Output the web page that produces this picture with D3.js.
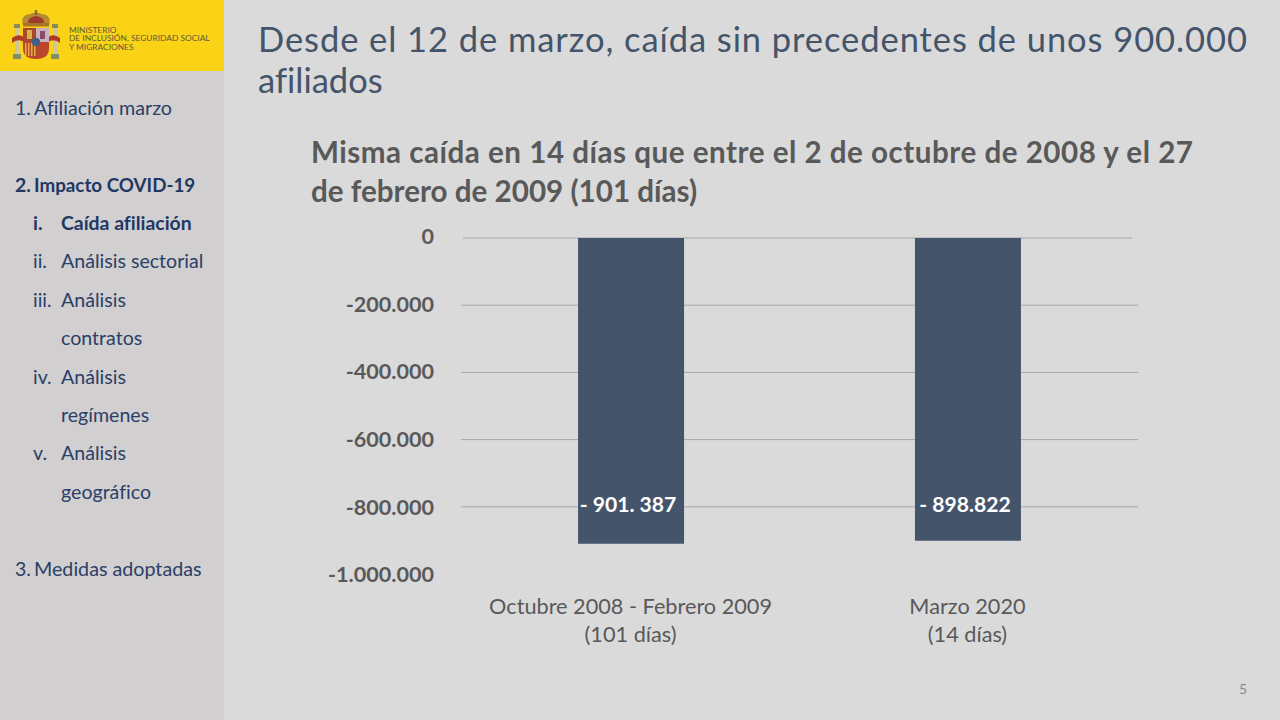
<!DOCTYPE html>
<html lang="es"><head><meta charset="utf-8">
<script src="https://cdn.jsdelivr.net/npm/d3@7/dist/d3.min.js"></script>
<style>html,body{margin:0;padding:0;background:#dadada;overflow:hidden}svg{display:block}text{font-family:Lato,"Open Sans",sans-serif;font-variant-ligatures:none}</style>
</head><body><svg id="c" width="1280" height="720"></svg>
<script>
const categories = [["Octubre 2008 - Febrero 2009","(101 días)"],["Marzo 2020","(14 días)"]];
const barValues = [-910000,-901000];
const barLabels = ["- 901. 387","- 898.822"];
const tickValues = [0,-200000,-400000,-600000,-800000,-1000000];
const titleLines = ["Desde el 12 de marzo, caída sin precedentes de unos 900.000","afiliados"];
const subtitleLines = ["Misma caída en 14 días que entre el 2 de octubre de 2008 y el 27","de febrero de 2009 (101 días)"];
const menuNumbers = [["1.",108,0],["2.",185,1],["3.",569,0]];
const menuMain = [["Afiliación marzo",108,0],["Impacto COVID-19",185,1],["Medidas adoptadas",569,0]];
const subNumbers = [["i.",223,1],["ii.",261,0],["iii.",300,0],["iv.",377,0],["v.",453,0]];
const subItems = [["Caída afiliación",223,1],["Análisis sectorial",261,0],["Análisis",300,0],["contratos",338,0],["Análisis",377,0],["regímenes",415,0],["Análisis",453,0],["geográfico",492,0]];
const logoText = ["MINISTERIO","DE INCLUSIÓN, SEGURIDAD SOCIAL","Y MIGRACIONES"];

const svg = d3.select("#c");
svg.append("rect").attr("width",1280).attr("height",720).attr("fill","#dadada");
svg.append("rect").attr("width",224).attr("height",720).attr("fill","#d1cfcf");
svg.append("rect").attr("width",224).attr("height",71).attr("fill","#fbd316");

// crest (decorative emblem)
const crest = svg.append("g");
const part=(x,y,w,h,f)=>crest.append("rect").attr("x",x).attr("y",y).attr("width",w).attr("height",h).attr("fill",f);
[14,52].forEach(x=>{
  part(x,24,6,4,"#8a8a55"); part(x+1,28,4,27,"#cfc79a"); part(x-1,54,8,5,"#7f8f6a");
});
crest.append("path").attr("d","M12 38 Q18 33 24 37 L24 42 Q18 38 12 43 Z").attr("fill","#b03a2a");
crest.append("path").attr("d","M60 38 Q54 33 48 37 L48 42 Q54 38 60 43 Z").attr("fill","#b03a2a");
crest.append("path").attr("d","M23 28 H49 V48 Q49 59 36 59 Q23 59 23 48 Z").attr("fill","#b8452c");
part(36,28,13,14,"#cbb0bd");
part(23,28,13,14,"#a9482c");
part(27,30,5,9,"#d8b24a");
part(40,31,5,8,"#8a4a6a");
[25,28,31,34].forEach(x=>part(x,43,1.5,13,"#e0b040"));
crest.append("circle").attr("cx",36).attr("cy",42).attr("r",4.2).attr("fill","#3f5f8c");
crest.append("path").attr("d","M23 25 Q20 15 30 14 Q36 11 42 14 Q52 15 49 25 Z").attr("fill","#b58a30");
crest.append("path").attr("d","M28 24 Q27 17 36 16 Q45 17 44 24 Z").attr("fill","#9e3b2a");
part(23,23,26,3.5,"#a8762a");
part(34.8,10,2.4,5,"#7f6a2a");
svg.append("g").selectAll("text").data(logoText).join("text")
  .attr("x",69).attr("y",(d,i)=>32.5+i*8.5).attr("font-size",8.4).attr("fill","#5f5a38").text(d=>d);

// sidebar
const navy="#1f3864", navyReg="#2b4068";
const colour=d=>d[2]?navy:navyReg, weight=d=>d[2]?700:400;
svg.append("g").selectAll("text").data(menuNumbers).join("text").attr("x",15).attr("y",d=>d[1]+6.5)
  .attr("font-size",19.5).attr("font-weight",weight).attr("fill",colour).text(d=>d[0]);
svg.append("g").selectAll("text").data(menuMain).join("text").attr("x",34).attr("y",d=>d[1]+6.5)
  .attr("font-size",d=>d[2]?18.8:19.7).attr("font-weight",weight).attr("fill",colour).text(d=>d[0]);
svg.append("g").selectAll("text").data(subNumbers).join("text").attr("x",33).attr("y",d=>d[1]+6.5)
  .attr("font-size",19.5).attr("font-weight",weight).attr("fill",colour).text(d=>d[0]);
svg.append("g").selectAll("text").data(subItems).join("text").attr("x",61).attr("y",d=>d[1]+6.5)
  .attr("font-size",d=>d[2]?19.4:19.6).attr("font-weight",weight).attr("fill",colour).text(d=>d[0]);

// titles
svg.append("text").attr("x",258).attr("y",52).attr("font-size",34.5).attr("fill","#44546a")
  .attr("textLength",989).attr("lengthAdjust","spacing").text(titleLines[0]);
svg.append("text").attr("x",258).attr("y",93).attr("font-size",34.5).attr("fill","#44546a").text(titleLines[1]);
svg.append("g").selectAll("text").data(subtitleLines).join("text").attr("x",311).attr("y",(d,i)=>163+i*38.5)
  .attr("font-size",29.6).attr("font-weight",700).attr("fill","#595959")
  .each(function(d,i){ if(i===0) d3.select(this).attr("textLength",882).attr("lengthAdjust","spacing"); })
  .text(d=>d);

// chart
const y=d3.scaleLinear().domain([0,-1000000]).range([238,574]);
const x=d3.scaleBand().domain(categories.map(d=>d[0])).range([462,1137]).paddingInner(0.6855).paddingOuter(0.3445);
const fmt=v=>String(v).replace(/\B(?=(\d{3})+(?!\d))/g,".");
const axis=d3.axisLeft(y).tickValues(tickValues).tickSize(0).tickPadding(0).tickFormat(fmt);
const ga=svg.append("g").attr("transform","translate(434,0)").call(axis);
ga.select(".domain").remove();
ga.selectAll("text").attr("font-size",21.6).attr("font-weight",700).attr("fill","#595959").attr("dy",null)
  .attr("y",d=>d===0?5:d===-800000?8:d===-200000||d===-400000?6:7);
svg.append("g").selectAll("line").data(tickValues.slice(0,5)).join("line")
  .attr("x1",d=>d===0?463:461).attr("x2",d=>d===0?1132:1138).attr("y1",d=>y(d)).attr("y2",d=>y(d))
  .attr("stroke","#a6a6a6").attr("stroke-width",1);
svg.append("g").selectAll("rect").data(barValues).join("rect")
  .attr("x",(d,i)=>x(categories[i][0])).attr("width",x.bandwidth()).attr("y",y(0)).attr("height",d=>y(d)-y(0))
  .attr("fill","#44546a");
svg.append("g").selectAll("text").data(barLabels).join("text")
  .attr("x",(d,i)=>x(categories[i][0])+x.bandwidth()/2-3).attr("y",y(-800000)+5.5).attr("text-anchor","middle")
  .attr("font-size",21.1).attr("font-weight",700).attr("fill","#fff").text(d=>d);
categories.forEach((c,i)=>{
  svg.append("g").selectAll("text").data(c).join("text")
    .attr("x",x(c[0])+x.bandwidth()/2-0.5).attr("y",(d,j)=>614+j*28).attr("text-anchor","middle")
    .attr("font-size",21.7).attr("fill","#595959").text(d=>d);
});
svg.append("text").attr("x",1243).attr("y",694).attr("text-anchor","middle").attr("font-size",14).attr("fill","#8c8c8c").text("5");
</script></body></html>
